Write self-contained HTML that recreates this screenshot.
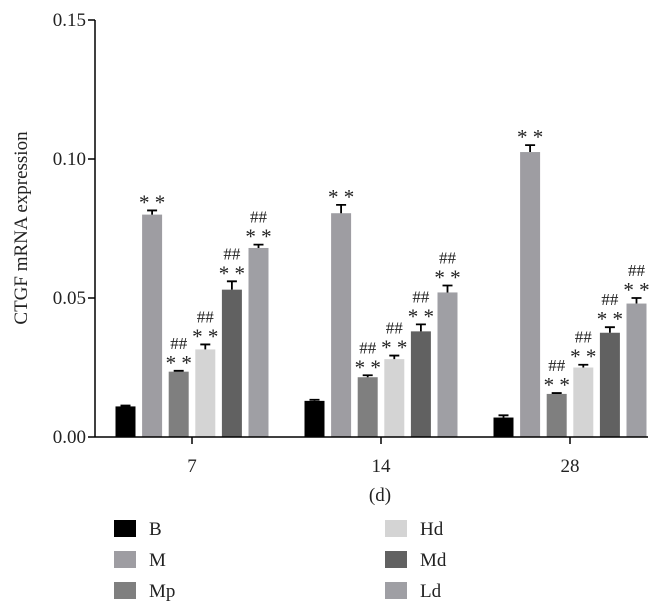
<!DOCTYPE html>
<html><head><meta charset="utf-8"><style>
body{margin:0;background:#fff;}
svg{display:block;font-family:"Liberation Serif",serif;}
</style></head><body>
<svg id="chart" width="657" height="616"></svg>
<script>
const categories = ["7","14","28"];
const groups = ["B","M","Mp","Hd","Md","Ld"];
const colors = ["#000000","#9e9da2","#7f7f7f","#d4d4d4","#616161","#9f9fa4"];
const valuesB  = [0.011, 0.013, 0.007];
const valuesM  = [0.080, 0.0805, 0.1025];
const valuesMp = [0.0235, 0.0215, 0.0155];
const valuesHd = [0.0315, 0.028, 0.025];
const valuesMd = [0.053, 0.038, 0.0375];
const valuesLd = [0.068, 0.052, 0.048];
const errB  = [0.0003, 0.0004, 0.0008];
const errM  = [0.0015, 0.003, 0.0025];
const errMp = [0.0003, 0.0007, 0.0003];
const errHd = [0.0018, 0.0013, 0.001];
const errMd = [0.003, 0.0025, 0.002];
const errLd = [0.0012, 0.0025, 0.002];
const marksStar = [false, true, true, true, true, true];
const marksHash = [false, false, true, true, true, true];
const yTicks = [0, 0.05, 0.10, 0.15];
const yTickLabels = ["0.00","0.05","0.10","0.15"];

const series=[valuesB,valuesM,valuesMp,valuesHd,valuesMd,valuesLd];
const errs=[errB,errM,errMp,errHd,errMd,errLd];
const NS="http://www.w3.org/2000/svg";
const svg=document.getElementById('chart');
const x0=95,x1=648,yBase=437,yTop=20,yMax=0.15;
const y=v=>yBase-(v/yMax)*(yBase-yTop);
const groupX=i=>192+i*189;
const pitch=26.6,bw=20;
const barX=(g,s)=>groupX(g)+(s-2.5)*pitch-bw/2;
function el(t,a,txt){const e=document.createElementNS(NS,t);for(const k in a)e.setAttribute(k,a[k]);if(txt!=null)e.textContent=txt;svg.appendChild(e);return e;}

let e;
categories.forEach((c,g)=>{
  series.forEach((arr,s)=>{
    const v=arr[g],er=errs[s][g],bx=barX(g,s),cx=bx+bw/2;
    e=el('rect',{x:bx,y:y(v),width:bw,height:yBase-y(v),fill:colors[s]});
    
    
    const ty=y(v+er);
    e=el('path',{d:`M${cx} ${y(v)}V${ty}M${cx-5} ${ty}H${cx+5}`,stroke:'#000','stroke-width':1.8,fill:'none'});
    
    
    if(marksStar[s]){
      e=el('text',{x:cx,y:ty-1,'text-anchor':'middle','font-size':21,fill:'#222'},'* *');
      
      
    }
    if(marksHash[s]){
      e=el('text',{x:cx,y:ty-22,'text-anchor':'middle','font-size':17,fill:'#222'},'##');
      
      
    }
  });
  e=el('line',{x1:groupX(g),x2:groupX(g),y1:yBase,y2:yBase+7,stroke:'#000','stroke-width':1.5});
  
  
  e=el('text',{x:groupX(g),y:472,'text-anchor':'middle','font-size':19,fill:'#222'},c);
  
  
});
e=el('line',{x1:x0,x2:x0,y1:yTop,y2:yBase,stroke:'#000','stroke-width':1.5});


e=el('line',{x1:x0,x2:x1,y1:yBase,y2:yBase,stroke:'#000','stroke-width':1.5});


yTicks.forEach((t,i)=>{
  e=el('line',{x1:x0-7,x2:x0,y1:y(t),y2:y(t),stroke:'#000','stroke-width':1.5});
  
  
  e=el('text',{x:86,y:y(t)+6,'text-anchor':'end','font-size':19,fill:'#222'},yTickLabels[i]);
  
  
});
e=el('text',{x:0,y:0,transform:'translate(27,228) rotate(-90)','text-anchor':'middle','font-size':19,fill:'#222'},'CTGF mRNA expression');


e=el('text',{x:380,y:501,'text-anchor':'middle','font-size':19,fill:'#222'},'(d)');


groups.forEach((gname,s)=>{
  const col=Math.floor(s/3),row=s%3;
  const lx=col?385:114,ly=520+row*31;
  e=el('rect',{x:lx,y:ly,width:22,height:17,fill:colors[s]});
  
  
  e=el('text',{x:lx+35,y:ly+15,'font-size':19,fill:'#222'},gname);
  
  
});
</script>
</body></html>
